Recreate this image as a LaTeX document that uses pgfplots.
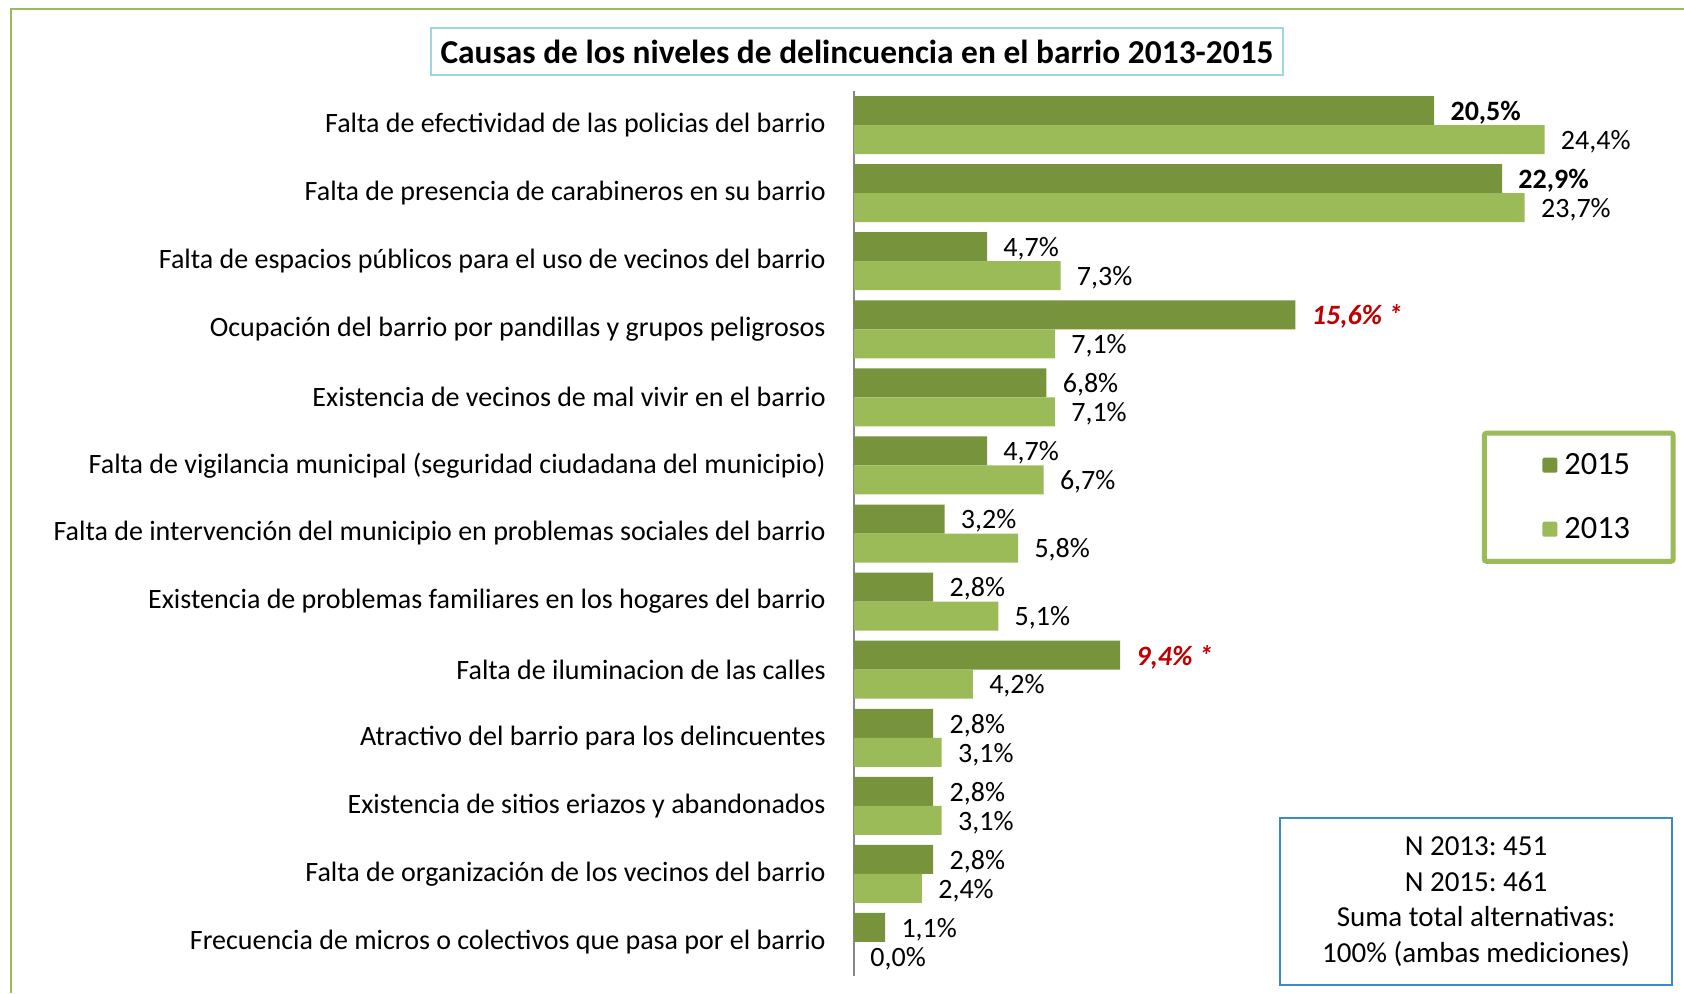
\documentclass[border=0pt]{standalone}
\usepackage{fontspec}
\setmainfont{Carlito}
\usepackage{pgfplots}
\pgfplotsset{compat=1.18}
\frenchspacing

\definecolor{c15}{HTML}{77933C}
\definecolor{c13}{HTML}{9BBB59}
\definecolor{tbord}{HTML}{A0D4DE}
\definecolor{nbord}{HTML}{3A8AD0}
\definecolor{redlab}{HTML}{C00000}
\definecolor{axgray}{HTML}{868686}

\newcommand{\fs}[1]{\fontsize{#1}{1.2\dimexpr#1pt\relax}\selectfont}

\begin{document}
\begin{tikzpicture}
  % page = 1684 x 993 px at 0.5pt per px
  \path[use as bounding box] (0,0) rectangle (842pt,496.5pt);
  \draw[c13, line width=1.2pt] (5.5pt,0pt) -- (5.5pt,492pt) -- (842pt,492pt);

  \begin{axis}[
      at={(427pt,8.5pt)}, anchor=south west,
      width=367.9pt, height=442.5pt, scale only axis,
      xmin=0, xmax=26,
      ymin=-0.5, ymax=12.5,
      y dir=reverse,
      axis x line=none,
      axis y line*=left,
      axis line style={axgray, line width=1pt},
      ytick={0,...,12},
      yticklabels={
        {Falta de efectividad de las policias del barrio},
        {Falta de presencia de carabineros en su barrio},
        {Falta de espacios públicos para el uso de vecinos del barrio},
        {Ocupación del barrio por pandillas y grupos peligrosos},
        {Existencia de vecinos de mal vivir en el barrio},
        {Falta de vigilancia municipal (seguridad ciudadana del municipio)},
        {Falta de intervención del municipio en problemas sociales del barrio},
        {Existencia de problemas familiares en los hogares del barrio},
        {Falta de iluminacion de las calles},
        {Atractivo del barrio para los delincuentes},
        {Existencia de sitios eriazos y abandonados},
        {Falta de organización de los vecinos del barrio},
        {Frecuencia de micros o colectivos que pasa por el barrio}},
      yticklabel style={font=\fs{14}, anchor=east, inner sep=0pt, xshift=-14pt},
      major tick length=0pt,
      clip=false,
      xbar, bar width=14.5pt, bar shift=0pt,
      point meta=explicit symbolic,
      nodes near coords,
      every node near coord/.append style={font=\fs{14}, anchor=west, inner sep=0pt, xshift=8pt, yshift=-1pt, text=black},
      legend style={at={(0.985,0.541)}, anchor=center,
        draw=c13, line width=2.5pt, rounded corners=1pt,
        inner xsep=21.5pt, inner ysep=10pt,
        font=\fs{16.2}, row sep=20pt,
        nodes={inner sep=0pt},
        /tikz/every odd column/.style={column sep=3.5pt}},
      legend cell align=left,
    ]
    \addplot[fill=c15, draw=none,
      legend image code/.code={\path (-7.5pt,0pt); \fill[c15] (0pt,-3.75pt) rectangle (7.5pt,3.75pt);}]
      coordinates {
        (20.5,-0.213) [\textbf{20,5\%}]
        (22.9,0.787) [\textbf{22,9\%}]
        (4.7,1.787) [4,7\%]
        (15.6,2.787) [\textcolor{redlab}{\textbf{\textit{15,6\% *}}}]
        (6.8,3.787) [6,8\%]
        (4.7,4.787) [4,7\%]
        (3.2,5.787) [3,2\%]
        (2.8,6.787) [2,8\%]
        (9.4,7.787) [\textcolor{redlab}{\textbf{\textit{9,4\% *}}}]
        (2.8,8.787) [2,8\%]
        (2.8,9.787) [2,8\%]
        (2.8,10.787) [2,8\%]
        (1.1,11.787) [1,1\%]
      };
    \addlegendentry{2015}
    \addplot[fill=c13, draw=none,
      legend image code/.code={\path (-7.5pt,0pt); \fill[c13] (0pt,-3.75pt) rectangle (7.5pt,3.75pt);}]
      coordinates {
        (24.4,0.213) [24,4\%]
        (23.7,1.213) [23,7\%]
        (7.3,2.213) [7,3\%]
        (7.1,3.213) [7,1\%]
        (7.1,4.213) [7,1\%]
        (6.7,5.213) [6,7\%]
        (5.8,6.213) [5,8\%]
        (5.1,7.213) [5,1\%]
        (4.2,8.213) [4,2\%]
        (3.1,9.213) [3,1\%]
        (3.1,10.213) [3,1\%]
        (2.4,11.213) [2,4\%]
        (0.0,12.213) [0,0\%]
      };
    \addlegendentry{2013}
  \end{axis}

  \node[draw=tbord, line width=1pt, minimum width=426pt, minimum height=23.5pt,
        font=\fs{16.7}\bfseries] at (428.5pt,470.75pt)
        {Causas de los niveles de delincuencia en el barrio 2013-2015};

  \node[draw=nbord, line width=0.8pt, minimum width=196pt, minimum height=83.5pt,
        align=center, font=\fontsize{14.5}{17.9}\selectfont] at (738pt,45.75pt)
        {N 2013: 451\\N 2015: 461\\Suma total alternativas:\\100\% (ambas mediciones)};
\end{tikzpicture}
\end{document}
